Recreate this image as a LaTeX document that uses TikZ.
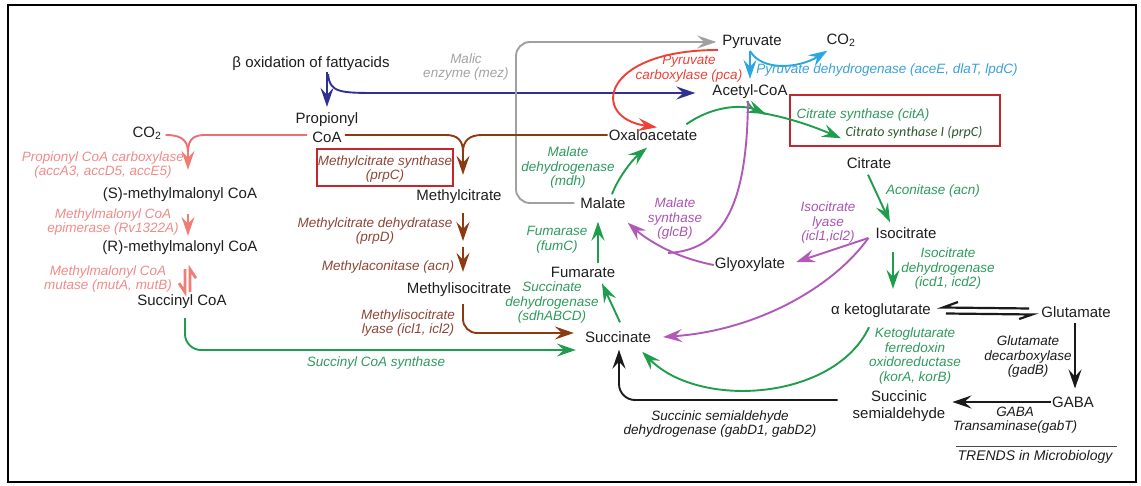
\documentclass[tikz,border=0pt]{standalone}
\usepackage{fontspec}
\setmainfont{Liberation Sans}
\newfontfamily\calib{Carlito}
\usetikzlibrary{arrows.meta,calc}
\definecolor{txtblack}{HTML}{1E1E1E}
\definecolor{pinktxt}{HTML}{F08A8A}
\definecolor{pinkln}{HTML}{EC6F78}
\definecolor{pinkar}{HTML}{F07C74}
\definecolor{brntxt}{HTML}{8E4535}
\definecolor{brn}{HTML}{8B3A12}
\definecolor{graytxt}{HTML}{A3A3A3}
\definecolor{grayln}{HTML}{A0A0A0}
\definecolor{pcared}{HTML}{EE4036}
\definecolor{ltblue}{HTML}{2AA7E0}
\definecolor{ltbluetxt}{HTML}{3BA0D8}
\definecolor{bblue}{HTML}{2E3192}
\definecolor{grn}{HTML}{1E9E4C}
\definecolor{grntxt}{HTML}{2E9A5C}
\definecolor{dkgreen}{HTML}{2C5A2C}
\definecolor{purp}{HTML}{B059B8}
\definecolor{purptxt}{HTML}{A955B0}
\definecolor{boxred}{HTML}{C1272D}
\definecolor{blk}{HTML}{1A1A1A}
\begin{document}
\begin{tikzpicture}[x=1pt,y=-1pt,
  every node/.style={inner sep=1pt},
  met/.style={font=\fontsize{15}{17}\selectfont, text=txtblack, align=center},
  enz/.style={font=\fontsize{13.5}{14.5}\selectfont\itshape, align=center},
  arr/.style={line width=1.9pt, -{Stealth[length=19pt,width=13pt,inset=7pt]}},
  ln/.style={line width=1.9pt},
  redbox/.style={draw=boxred, line width=2.8pt}]
\useasboundingbox (0,0) rectangle (1141,486);
\draw[line width=2pt] (8,5) rectangle (1136,482);

% metabolites
\node[met] (beta) at (311,64) {β oxidation of fattyacids};
\node[met] (propA) at (327,120) {Propionyl};
\node[met] (prop) at (327,137) {CoA};
\node[met] (co2a) at (147,133) {CO\textsubscript{2}};
\node[met] (smm) at (180,195) {(S)-methylmalonyl CoA};
\node[met] (rmm) at (180,248) {(R)-methylmalonyl CoA};
\node[met] (succoa) at (182,302) {Succinyl CoA};
\node[met] (mcit) at (459,197) {Methylcitrate};
\node[met] (micit) at (459,290) {Methylisocitrate};
\node[met] (pyr) at (752,42) {Pyruvate};
\node[met] (co2b) at (841,40) {CO\textsubscript{2}};
\node[met] (acoa) at (750,92) {Acetyl-CoA};
\node[met] (oaa) at (653,135) {Oxaloacetate};
\node[met] (mal) at (603,203) {Malate};
\node[met] (fum) at (583,272) {Fumarate};
\node[met] (suc) at (618,337) {Succinate};
\node[met] (cit) at (869,163) {Citrate};
\node[met] (icit) at (906,233) {Isocitrate};
\node[met] (glyox) at (750,265) {Glyoxylate};
\node[met] (akg) at (881,311) {α ketoglutarate};
\node[met] (glu) at (1076,312) {Glutamate};
\node[met] (gaba) at (1073,402) {GABA};
\node[met] (ssa) at (899,406) {Succinic\\semialdehyde};

% enzyme labels
\node[enz,text=pinktxt] (pccl) at (103,165) {Propionyl CoA carboxylase\\(accA3, accD5, accE5)};
\node[enz,text=pinktxt] (mcel) at (113,222) {Methylmalonyl CoA\\epimerase (Rv1322A)};
\node[enz,text=pinktxt] (mcml) at (108,279) {Methylmalonyl CoA\\mutase (mutA, mutB)};
\node[enz,text=brntxt] (mcsl) at (385,169) {Methylcitrate synthase\\(prpC)};
\node[enz,text=brntxt] (mcdl) at (375,231) {Methylcitrate dehydratase\\(prpD)};
\node[enz,text=brntxt] (macl) at (388,267) {Methylaconitase (acn)};
\node[enz,text=brntxt] (mill) at (408,323) {Methylisocitrate\\lyase (icl1, icl2)};
\node[enz,text=graytxt] (mezl) at (466,67) {Malic\\enzyme (mez)};
\node[enz,text=pcared] (pcal) at (689,69) {Pyruvate\\carboxylase (pca)};
\node[enz,text=ltbluetxt] (pdhl) at (887,70) {Pyruvate dehydrogenase (aceE, dlaT, lpdC)};
\node[enz,text=grntxt] (csl) at (863,115) {Citrate synthase (citA)};
\node[font=\calib\fontsize{14}{16}\selectfont\itshape, text=dkgreen] (cs2l) at (914,133) {Citrato synthase I (prpC)};
\node[enz,text=grntxt] (mdhl) at (568,168) {Malate\\dehydrogenase\\(mdh)};
\node[enz,text=grntxt] (fuml) at (557,240) {Fumarase\\(fumC)};
\node[enz,text=grntxt] (sdhl) at (552,303) {Succinate\\dehydrogenase\\(sdhABCD)};
\node[enz,text=grntxt] (scsl) at (376,363) {Succinyl CoA synthase};
\node[enz,text=grntxt] (acnl) at (933,191) {Aconitase (acn)};
\node[enz,text=grntxt] (icdl) at (948,269) {Isocitrate\\dehydrogenase\\(icd1, icd2)};
\node[enz,text=grntxt] (korl) at (915,356) {Ketoglutarate\\ferredoxin\\oxidoreductase\\(korA, korB)};
\node[enz,text=purptxt] (glcl) at (675,219) {Malate\\synthase\\(glcB)};
\node[enz,text=purptxt] (icll) at (828,223) {Isocitrate\\lyase\\(icl1,icl2)};
\node[enz,text=blk] (gadl) at (1028,357) {Glutamate\\decarboxylase\\(gadB)};
\node[enz,text=blk] (gabtl) at (1015,420) {GABA\\Transaminase(gabT)};
\node[enz,text=blk] (gabdl) at (720,424) {Succinic semialdehyde\\dehydrogenase (gabD1, gabD2)};
\node[font=\fontsize{14}{16}\selectfont\itshape, text=txtblack] (trends) at (1035,457) {TRENDS in Microbiology};
\draw[line width=0.8pt, black!70] ($(trends.north west)+(0,-3)$) -- ($(trends.north east)+(3,-3)$);

% red boxes
\draw[redbox] (317,149) rectangle (453,186);
\draw[redbox] (790,95) rectangle (1000,146);

% beta oxidation (blue)
\coordinate (bsrc) at (beta.south -| propA.north);
\draw[arr,bblue] (bsrc) -- ($(propA.north)+(0,-5)$);
\draw[arr,bblue] ($(bsrc)+(1,2)$) .. controls (330,93) and (340,93) .. (380,93) -- ($(acoa.west)+(-16,1)$);

% pyruvate dehydrogenase (light blue)
\coordinate (pyrs) at ($(pyr.south)+(-2,1)$);
\draw[arr,ltblue] (pyrs) -- ($(acoa.north)+(0,-5)$);
\draw[arr,ltblue] (pyrs) .. controls (762,72) and (800,68) .. ($(co2b.south west)+(2,3)$);

% malic enzyme (gray)
\coordinate (malw) at ($(mal.west)+(-5,0)$);
\coordinate (pyrw) at ($(pyr.west)+(-5,0)$);
\draw[arr,grayln,rounded corners=14pt] (malw) -- (malw -| 516,0) -- (pyrw -| 516,0) -- (pyrw);

% pyruvate carboxylase (red)
\draw[arr,pcared] ($(pyr.west)+(-3,8)$) .. controls (600,50) and (590,118) .. ($(oaa.north)+(4,-1)$);

% citrate synthase (green)
\coordinate (csm) at (766,114);
\draw[arr,grn] ($(oaa.north east)+(-12,-4)$) .. controls (712,106) and (742,104) .. (csm);
\draw[ln,grn] ($(acoa.south)+(-3,1)$) .. controls (750,106) and (752,111) .. (csm);
\draw[arr,grn] ($(csm)+(-4,-1)$) .. controls (790,118) and (815,127) .. ($(cit.north)+(-28,-18)$);

% malate synthase (purple)
\coordinate (msj) at (668,253);
\draw[ln,purp] ($(acoa.south)+(-2,1)$) .. controls (747,200) and (726,250) .. (msj);
\draw[arr,purp] (glyox.west) .. controls (672,257) and (645,238) .. ($(mal.south east)+(1,13)$);

% TCA left side (green)
\draw[arr,grn] ($(mal.north)+(9,-2)$) .. controls (618,178) and (632,160) .. ($(oaa.south)+(-6,6)$);
\draw[arr,grn] ($(fum.north)+(15,-3)$) -- ($(mal.south)+(-5,12)$);
\draw[arr,grn] ($(suc.north)+(2,-8)$) -- ($(fum.south)+(19,5)$);

% methylcitrate cycle (brown)
\coordinate (mcj) at (463,152);
\draw[ln,brn] ($(prop.east)+(2,-2)$) -- (446,135) .. controls (458,135) and (463,141) .. (mcj);
\draw[ln,brn] (oaa.west) -- (482,135) .. controls (469,135) and (463,141) .. (mcj);
\draw[arr,brn] (mcj) -- ($(mcit.north)+(4,-14)$);
\coordinate (maco) at (463,244);
\draw[arr,brn] ($(mcit.south)+(4,8)$) -- ($(maco)+(0,-3)$);
\draw[arr,brn] ($(maco)+(0,3)$) -- ($(micit.north)+(4,-10)$);
\draw[arr,brn,rounded corners=14pt] ($(micit.south)+(4,6)$) |- ($(suc.west)+(-10,-4)$);

% methylmalonyl pathway (pink)
\coordinate (pcj) at (188,152);
\draw[ln,pinkln] ($(prop.west)+(-4,-2)$) -- (205,135) .. controls (193,135) and (188,140) .. (pcj);
\draw[ln,pinkln] ($(co2a.east)+(3,2)$) .. controls (178,135) and (188,138) .. (pcj);
\draw[arr,pinkar] (pcj) -- ($(smm.north)+(8,-17)$);
\draw[arr,pinkar] ($(smm.south)+(8,11)$) -- ($(rmm.north)+(8,-4)$);
\draw[pinkar,line width=2.8pt] ($(rmm.south)+(10,36)$) -- ($(rmm.south)+(10,13)$) -- ($(rmm.south)+(16,22)$);
\draw[pinkar,line width=2.8pt] ($(rmm.south)+(5,13)$) -- ($(rmm.south)+(5,36)$) -- ($(rmm.south)+(-1,27)$);
\draw[arr,grn,rounded corners=16pt] ($(succoa.south)+(3,8)$) |- ($(suc.west)+(-8,13)$);

% TCA right side
\draw[arr,grn] ($(cit.south)+(-1,5)$) -- ($(icit.north)+(-16,-4)$);
\draw[arr,grn] ($(icit.south)+(-13,12)$) -- ($(akg.north)+(12,-14)$);
\coordinate (icp) at ($(icit.west)+(-6,5)$);
\draw[arr,purp] (icp) -- ($(glyox.east)+(10,-3)$);
\draw[arr,purp] (icp) .. controls (835,285) and (760,330) .. ($(suc.east)+(11,0)$);
\draw[arr,grn] ($(akg.south)+(-12,8)$) .. controls (835,400) and (700,410) .. ($(suc.south east)+(-10,8)$);

% glutamate / GABA shunt (black)
\coordinate (eqa) at ($(akg.east)+(11,0)$);
\coordinate (eqb) at ($(glu.west)+(-8,0)$);
\draw[blk,line width=2.2pt] ($(eqb)+(-3,-3.5)$) -- ($(eqa)+(0,-3.5)$) -- ($(eqa)+(15,-9)$);
\draw[blk,line width=2.2pt] ($(eqa)+(3,2.5)$) -- ($(eqb)+(0,2.5)$) -- ($(eqb)+(-13,7)$);
\draw[arr,blk] ($(glu.south)+(-1,4)$) -- ($(gaba.north)+(2,-7)$);
\draw[arr,blk] (gaba.west) -- ($(ssa.east)+(6,-4)$);
\draw[arr,blk,rounded corners=16pt] ($(ssa.west)+(-14,-6)$) -| ($(suc.south)+(1,6)$);
\end{tikzpicture}
\end{document}
